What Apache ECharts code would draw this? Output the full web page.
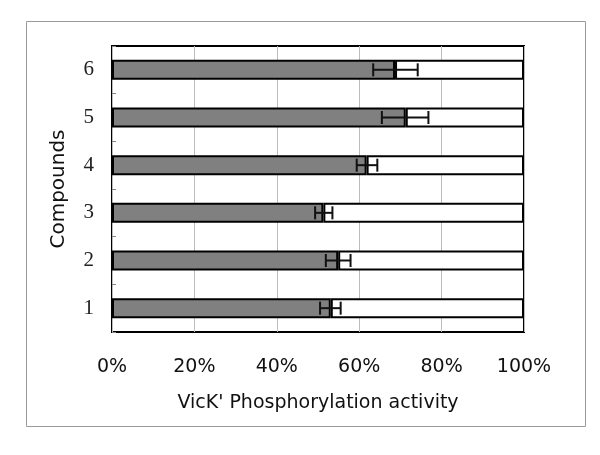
<!DOCTYPE html>
<html><head><meta charset="utf-8">
<script src="https://cdn.jsdelivr.net/npm/echarts@6/dist/echarts.min.js"></script>
<style>html,body{margin:0;padding:0;background:#fff}#c{width:600px;height:455px}</style>
</head><body><div id="c"></div>
<script>
var categories = ['1','2','3','4','5','6'];
var activity = [53.1, 54.9, 51.3, 61.8, 71.3, 68.7];
var errLow = [50.5, 51.9, 49.3, 59.4, 65.5, 63.4];
var errHigh = [55.5, 57.9, 53.5, 64.4, 76.8, 74.2];
var xTicks = [0, 20, 40, 60, 80, 100];

var remainder = activity.map(function(v){ return +(100 - v).toFixed(2); });
var errData = categories.map(function(c, i){ return [errLow[i], errHigh[i], i]; });

var chart = echarts.init(document.getElementById('c'));
chart.setOption({
  animation: false,
  graphic: [{type:'rect', shape:{x:26.5, y:21.5, width:559, height:405}, style:{fill:null, stroke:'#9a9a9a', lineWidth:1}, z:-10}],
  grid: {left:112, right:76, top:46, bottom:123, show:true, borderColor:'#000', borderWidth:2, backgroundColor:'#fff'},
  xAxis: {
    type:'value', min:0, max:100, interval:20,
    axisLine:{show:false}, axisTick:{show:false},
    splitLine:{show:true, lineStyle:{color:'#bcbcbc', width:1}},
    axisLabel:{formatter:function(v){return v+'%';}, fontFamily:'DejaVu Sans', fontSize:19, color:'#111', margin:26},
    name:"VicK' Phosphorylation activity", nameLocation:'middle', nameGap:62,
    nameTextStyle:{fontFamily:'DejaVu Sans', fontSize:19, color:'#111'}
  },
  yAxis: {
    type:'category', data:categories,
    axisLine:{show:false},
    axisTick:{show:true, inside:true, length:4, lineStyle:{color:'#888'}},
    axisLabel:{fontFamily:'Liberation Serif', fontSize:21, color:'#222', margin:18},
    name:'Compounds', nameLocation:'middle', nameGap:43, nameRotate:90,
    nameTextStyle:{fontFamily:'DejaVu Sans', fontSize:20, color:'#111'}
  },
  series: [
    {type:'bar', stack:'a', data:activity, barCategoryGap:'58%',
     itemStyle:{color:'#808080', borderColor:'#000', borderWidth:2}},
    {type:'bar', stack:'a', data:remainder,
     itemStyle:{color:'#fff', borderColor:'#000', borderWidth:2}},
    {type:'custom', data:errData, z:10,
     renderItem:function(params, api){
       var lo = api.coord([api.value(0), api.value(2)]);
       var hi = api.coord([api.value(1), api.value(2)]);
       var h = 6.5;
       var st = {stroke:'#111', lineWidth:2};
       return {type:'group', children:[
         {type:'line', shape:{x1:lo[0], y1:lo[1], x2:hi[0], y2:hi[1]}, style:st},
         {type:'line', shape:{x1:lo[0], y1:lo[1]-h, x2:lo[0], y2:lo[1]+h}, style:st},
         {type:'line', shape:{x1:hi[0], y1:hi[1]-h, x2:hi[0], y2:hi[1]+h}, style:st}
       ]};
     }}
  ]
});
</script></body></html>
